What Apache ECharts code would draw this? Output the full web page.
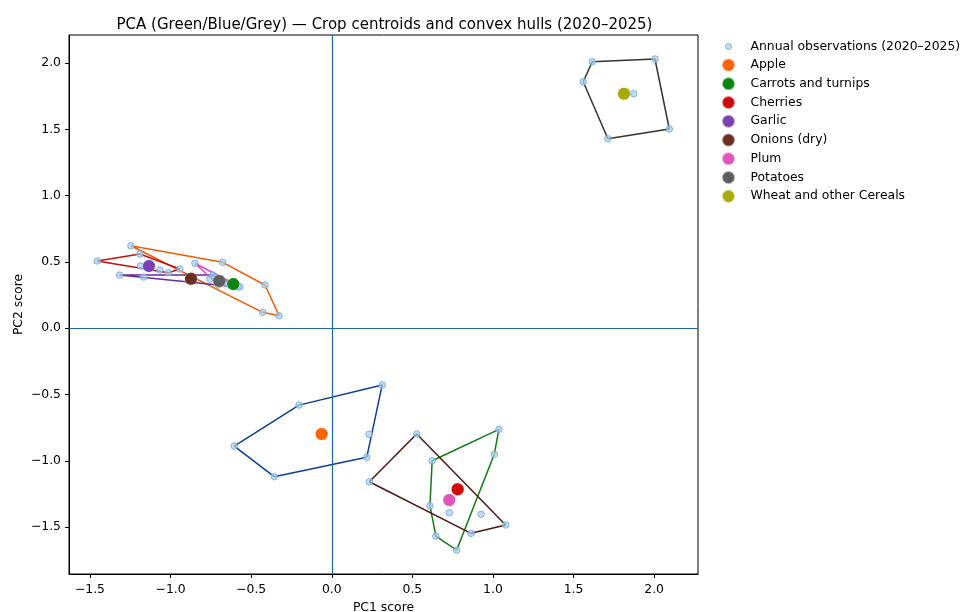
<!DOCTYPE html>
<html>
<head>
<meta charset="utf-8">
<script src="https://cdn.jsdelivr.net/npm/echarts@6/dist/echarts.min.js"></script>
<style>
  html, body { margin: 0; padding: 0; background: #ffffff; }
  #chart { width: 962px; height: 612px; }
</style>
</head>
<body>
<div id="chart"></div>
<script>
// ---- data: PCA scores per crop, one point per year 2020–2025 ----
const crops = ['Apple', 'Carrots and turnips', 'Cherries', 'Garlic', 'Onions (dry)', 'Plum', 'Potatoes', 'Wheat and other Cereals'];

const obsApple    = [[0.313, -0.428], [-0.203, -0.580], [-0.605, -0.889], [-0.357, -1.120], [0.217, -0.974], [0.231, -0.800]];
const obsCarrots  = [[-1.246, 0.622], [-0.677, 0.497], [-0.414, 0.326], [-0.327, 0.094], [-0.429, 0.120], [-0.580, 0.318]];
const obsCherries = [[0.623, -1.000], [1.037, -0.763], [1.008, -0.951], [0.775, -1.673], [0.646, -1.568], [0.609, -1.339]];
const obsGarlic   = [[-1.455, 0.507], [-1.190, 0.560], [-0.942, 0.447], [-1.014, 0.419], [-1.186, 0.469], [-1.066, 0.439]];
const obsOnions   = [[-1.316, 0.401], [-1.167, 0.386], [-0.737, 0.401], [-0.582, 0.311], [-0.756, 0.371], [-0.687, 0.349]];
const obsPlum     = [[0.527, -0.798], [0.233, -1.158], [0.864, -1.547], [1.079, -1.484], [0.729, -1.392], [0.926, -1.404]];
const obsPotatoes = [[-0.849, 0.490], [-0.569, 0.313], [-0.704, 0.326], [-0.725, 0.379], [-0.681, 0.348], [-0.644, 0.333]];
const obsWheat    = [[1.616, 2.010], [2.005, 2.031], [2.094, 1.503], [1.713, 1.429], [1.560, 1.859], [1.873, 1.769]];

// crop centroids (mean score over the six years)
const centroids = [[-0.063, -0.798], [-0.611, 0.333], [0.781, -1.215], [-1.134, 0.469], [-0.873, 0.373], [0.729, -1.296], [-0.698, 0.356], [1.813, 1.769]];

const xTicks = [-1.5, -1.0, -0.5, 0.0, 0.5, 1.0, 1.5, 2.0];
const yTicks = [-1.5, -1.0, -0.5, 0.0, 0.5, 1.0, 1.5, 2.0];
const obsName = 'Annual observations (2020–2025)';

// ---- styling ----
const obsByCrop = [obsApple, obsCarrots, obsCherries, obsGarlic, obsOnions, obsPlum, obsPotatoes, obsWheat];
const centroidColors = ['#ff6200', '#0a850d', '#d00808', '#7a42b0', '#6b2d20', '#df55b8', '#5d5d5d', '#a9a90a'];
const hullColors = ['#0b3f95', '#f45a00', '#127a12', '#c40f0f', '#6a2aa0', '#4e1710', '#e048c0', '#333333'];
const FONT = 'DejaVu Sans';
const obsStyle = { color: 'rgba(166,206,232,0.7)', borderColor: 'rgba(120,172,220,0.9)', borderWidth: 1, opacity: 1 };

// Andrew's monotone chain convex hull, returned closed
function convexHull(points) {
  const p = points.slice().sort((a, b) => a[0] - b[0] || a[1] - b[1]);
  const cross = (o, a, b) => (a[0] - o[0]) * (b[1] - o[1]) - (a[1] - o[1]) * (b[0] - o[0]);
  const lower = [], upper = [];
  for (const pt of p) {
    while (lower.length >= 2 && cross(lower[lower.length - 2], lower[lower.length - 1], pt) <= 0) lower.pop();
    lower.push(pt);
  }
  for (let i = p.length - 1; i >= 0; i--) {
    const pt = p[i];
    while (upper.length >= 2 && cross(upper[upper.length - 2], upper[upper.length - 1], pt) <= 0) upper.pop();
    upper.push(pt);
  }
  upper.pop(); lower.pop();
  const hull = lower.concat(upper);
  hull.push(hull[0]);
  return hull;
}

const fmt = v => v.toFixed(1).replace('-', '\u2212');

const series = [];

// zero reference lines
series.push({
  type: 'line', name: 'zero', data: [], silent: true, z: 1,
  markLine: {
    silent: true, symbol: 'none', animation: false,
    label: { show: false },
    lineStyle: { color: '#1f65b3', width: 1.2, type: 'solid' },
    emphasis: { disabled: true },
    data: [{ xAxis: 0 }, { yAxis: 0 }]
  }
});

// convex hulls
obsByCrop.forEach((pts, i) => {
  series.push({
    type: 'line', name: 'hull ' + crops[i], data: convexHull(pts),
    symbol: 'none', showSymbol: false, silent: true, z: 2,
    lineStyle: { color: hullColors[i], width: 1.5 },
    emphasis: { disabled: true }
  });
});

// yearly observations
series.push({
  type: 'scatter', name: obsName, z: 3,
  data: [].concat(...obsByCrop),
  symbolSize: 6.5,
  itemStyle: obsStyle,
  emphasis: { disabled: true }
});

// centroids
crops.forEach((c, i) => {
  series.push({
    type: 'scatter', name: c, z: 4,
    data: [centroids[i]],
    symbolSize: 12.5,
    itemStyle: { color: centroidColors[i], opacity: 1, borderColor: 'rgba(255,255,255,0.5)', borderWidth: 0.5 },
    emphasis: { disabled: true }
  });
});

const legendText = { fontFamily: FONT, fontSize: 12.4, color: '#000' };

const option = {
  animation: false,
  backgroundColor: '#ffffff',
  title: {
    text: 'PCA (Green/Blue/Grey) \u2014 Crop centroids and convex hulls (2020\u20132025)',
    left: 379.5, top: 13, textAlign: 'center',
    textStyle: { fontFamily: FONT, fontSize: 15, fontWeight: 'normal', color: '#000' }
  },
  grid: {
    left: 69, right: 264, top: 35, bottom: 38,
    outerBoundsMode: 'none', containLabel: false,
    show: true, borderColor: '#000', borderWidth: 1, backgroundColor: 'transparent'
  },
  legend: [
    {
      data: [obsName], orient: 'vertical', left: 720, top: 35.5,
      itemWidth: 34, itemHeight: 6, icon: 'circle', itemGap: 3.75,
      selectedMode: false, textStyle: legendText,
      itemStyle: obsStyle
    },
    {
      data: crops, orient: 'vertical', left: 716, top: 52.5,
      itemWidth: 34, itemHeight: 13, icon: 'circle', itemGap: 3.75,
      selectedMode: false, textStyle: legendText
    }
  ],
  xAxis: {
    type: 'value', min: -1.630, max: 2.272,
    name: 'PC1 score', nameLocation: 'middle', nameGap: 28, nameMoveOverlap: false,
    nameTextStyle: { fontFamily: FONT, fontSize: 12.4, color: '#000' },
    axisLine: { show: true, onZero: false, lineStyle: { color: '#000', width: 1 } },
    axisTick: { show: true, inside: false, length: 4, customValues: xTicks, lineStyle: { color: '#000' } },
    axisLabel: { customValues: xTicks, formatter: fmt, margin: 10, fontFamily: FONT, fontSize: 12.4, color: '#000' },
    splitLine: { show: false }
  },
  yAxis: {
    type: 'value', min: -1.854, max: 2.212,
    name: 'PC2 score', nameLocation: 'middle', nameGap: 44, nameRotate: 90, nameMoveOverlap: false,
    nameTextStyle: { fontFamily: FONT, fontSize: 12.4, color: '#000' },
    axisLine: { show: true, onZero: false, lineStyle: { color: '#000', width: 1 } },
    axisTick: { show: true, inside: false, length: 4, customValues: yTicks, lineStyle: { color: '#000' } },
    axisLabel: { customValues: yTicks, formatter: fmt, margin: 8, fontFamily: FONT, fontSize: 12.4, color: '#000' },
    splitLine: { show: false }
  },
  series: series
};

const chart = echarts.init(document.getElementById('chart'), null, { renderer: 'canvas' });
chart.setOption(option);
</script>
</body>
</html>
